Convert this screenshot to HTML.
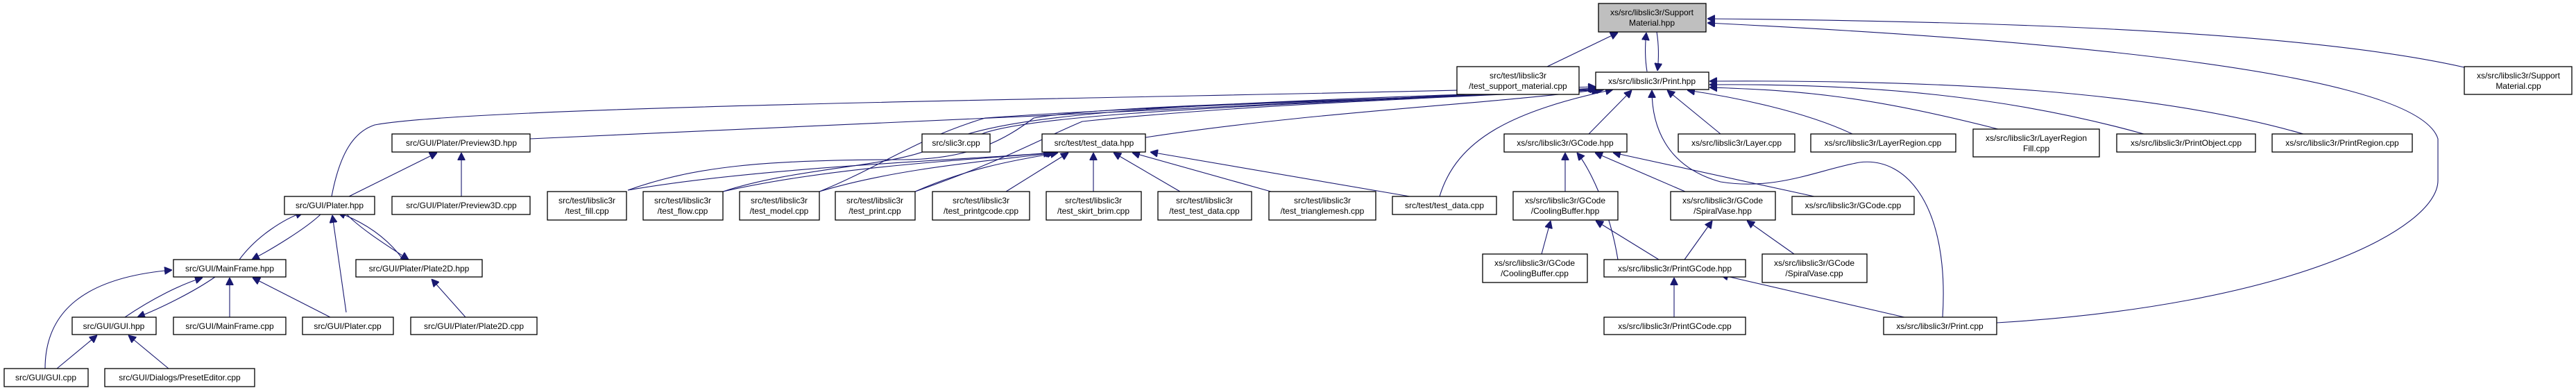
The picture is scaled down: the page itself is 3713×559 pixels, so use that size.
<!DOCTYPE html>
<html><head><meta charset="utf-8"><style>
html,body{margin:0;padding:0;background:#fff;}
svg{display:block;}
text{font-family:"Liberation Sans",Arial,sans-serif;font-size:12px;fill:#000;text-anchor:middle;}
.n{fill:#fff;stroke:#000;stroke-width:1.3;}
.e{fill:none;stroke:#191970;stroke-width:1.1;}
</style></head><body>
<svg width="3713" height="559" viewBox="0 0 3713 559" xmlns="http://www.w3.org/2000/svg">
<defs>
<marker id="a" viewBox="0 0 10 10" refX="10" refY="5" markerWidth="11" markerHeight="11" markerUnits="userSpaceOnUse" orient="auto">
<path d="M0,0 L10,5 L0,10 z" fill="#191970" stroke="#191970"/>
</marker>
</defs>
<g class="e" marker-end="url(#a)">
<!-- to SupportMaterial.hpp -->
<path d="M2230,96 L2332,47"/>
<path d="M2374,103 C2371,85 2371,65 2373,47"/>
<path d="M2388,46 C2391,65 2391,85 2389,102"/>
<path d="M3552,97 C3300,40 2800,30 2461,27"/>
<path d="M2878,465 C3300,440 3514,330 3514,260 L3514,200 C3480,90 2800,50 2461,33"/>
<!-- to Print.hpp -->
<path d="M478,283 C490,220 510,190 540,180 C700,150 1800,140 2300,125"/>
<path d="M764,200 C1200,180 1900,150 2300,127"/>
<path d="M1415,193 C1500,160 1900,150 2302,128"/>
<path d="M1651,198 C1900,160 2150,150 2305,129"/>
<path d="M905,274 C1000,240 1100,230 1300,230 C1400,230 1450,200 1490,170 C1600,150 2000,145 2306,129"/>
<path d="M1042,276 C1150,240 1300,240 1350,210 C1450,160 1700,150 2308,129"/>
<path d="M1181,276 C1270,240 1320,200 1420,170 C1700,150 2100,140 2310,129"/>
<path d="M1319,276 C1450,230 1500,200 1560,175 C1800,150 2100,140 2312,129"/>
<path d="M2075,283 C2100,200 2180,160 2325,129"/>
<path d="M2290,193 L2352,130"/>
<path d="M2800,457 C2810,300 2750,225 2680,234 C2620,245 2560,275 2480,262 C2400,240 2381,180 2381,130"/>
<path d="M2480,193 L2403,130"/>
<path d="M2670,193 C2600,160 2500,140 2432,130"/>
<path d="M2880,186 C2700,140 2600,130 2464,126"/>
<path d="M3090,193 C2900,140 2700,120 2464,122"/>
<path d="M3320,193 C3100,130 2800,115 2464,117"/>
<!-- to test_data.hpp -->
<path d="M905,274 C1100,240 1400,230 1515,220"/>
<path d="M1042,276 C1200,240 1400,230 1518,220"/>
<path d="M1181,276 C1300,240 1450,230 1520,220"/>
<path d="M1319,276 C1400,240 1470,230 1525,220"/>
<path d="M1450,276 L1540,220"/>
<path d="M1576,276 L1576,220"/>
<path d="M1701,276 L1605,220"/>
<path d="M1832,276 L1632,220"/>
<path d="M2032,283 L1658,219"/>
<!-- GUI side -->
<path d="M503,283 L630,220"/>
<path d="M665,283 L665,220"/>
<path d="M345,374 C370,340 410,315 437,306"/>
<path d="M462,309 C440,330 390,360 363,374"/>
<path d="M499,450 L479,310"/>
<path d="M581,374 C560,345 530,322 487,306"/>
<path d="M500,309 C520,330 560,355 589,374"/>
<path d="M671,457 L622,402"/>
<path d="M180,457 C220,430 260,410 292,400"/>
<path d="M310,399 C280,420 230,445 198,457"/>
<path d="M331,457 L331,400"/>
<path d="M476,457 L364,400"/>
<path d="M65,531 C65,450 120,400 248,389"/>
<path d="M82,531 L140,483"/>
<path d="M243,531 L185,483"/>
<!-- GCode side -->
<path d="M2256,276 L2256,220"/>
<path d="M2332,374 C2320,300 2290,240 2273,220"/>
<path d="M2429,276 L2299,220"/>
<path d="M2615,283 L2325,220"/>
<path d="M2222,366 L2235,318"/>
<path d="M2391,374 L2300,318"/>
<path d="M2428,374 L2468,318"/>
<path d="M2586,366 L2518,318"/>
<path d="M2413,457 L2413,400"/>
<path d="M2745,457 L2480,396"/>
</g>
<!-- nodes -->
<rect x="2304" y="5" width="155" height="41" fill="#bfbfbf" stroke="#000" stroke-width="1.3"/>
<text x="2381" y="22">xs/src/libslic3r/Support</text><text x="2381" y="37">Material.hpp</text>
<rect class="n" x="2100" y="96" width="176" height="40"/><text x="2188" y="113">src/test/libslic3r</text><text x="2188" y="128">/test_support_material.cpp</text>
<rect class="n" x="2300" y="104" width="163" height="25"/><text x="2381" y="121">xs/src/libslic3r/Print.hpp</text>
<rect class="n" x="3552" y="96" width="155" height="40"/><text x="3630" y="113">xs/src/libslic3r/Support</text><text x="3630" y="128">Material.cpp</text>
<rect class="n" x="565" y="193" width="199" height="26"/><text x="665" y="210">src/GUI/Plater/Preview3D.hpp</text>
<rect class="n" x="1329" y="193" width="98" height="26"/><text x="1378" y="210">src/slic3r.cpp</text>
<rect class="n" x="1502" y="193" width="149" height="26"/><text x="1577" y="210">src/test/test_data.hpp</text>
<rect class="n" x="2168" y="193" width="177" height="26"/><text x="2256" y="210">xs/src/libslic3r/GCode.hpp</text>
<rect class="n" x="2419" y="193" width="168" height="26"/><text x="2503" y="210">xs/src/libslic3r/Layer.cpp</text>
<rect class="n" x="2610" y="193" width="209" height="26"/><text x="2714" y="210">xs/src/libslic3r/LayerRegion.cpp</text>
<rect class="n" x="2844" y="186" width="182" height="40"/><text x="2935" y="203">xs/src/libslic3r/LayerRegion</text><text x="2935" y="218">Fill.cpp</text>
<rect class="n" x="3051" y="193" width="200" height="26"/><text x="3151" y="210">xs/src/libslic3r/PrintObject.cpp</text>
<rect class="n" x="3275" y="193" width="202" height="26"/><text x="3376" y="210">xs/src/libslic3r/PrintRegion.cpp</text>
<rect class="n" x="410" y="283" width="130" height="26"/><text x="475" y="300">src/GUI/Plater.hpp</text>
<rect class="n" x="565" y="283" width="199" height="26"/><text x="665" y="300">src/GUI/Plater/Preview3D.cpp</text>
<rect class="n" x="789" y="276" width="114" height="41"/><text x="846" y="293">src/test/libslic3r</text><text x="846" y="308">/test_fill.cpp</text>
<rect class="n" x="927" y="276" width="115" height="41"/><text x="984" y="293">src/test/libslic3r</text><text x="984" y="308">/test_flow.cpp</text>
<rect class="n" x="1066" y="276" width="115" height="41"/><text x="1123" y="293">src/test/libslic3r</text><text x="1123" y="308">/test_model.cpp</text>
<rect class="n" x="1204" y="276" width="115" height="41"/><text x="1261" y="293">src/test/libslic3r</text><text x="1261" y="308">/test_print.cpp</text>
<rect class="n" x="1344" y="276" width="140" height="41"/><text x="1414" y="293">src/test/libslic3r</text><text x="1414" y="308">/test_printgcode.cpp</text>
<rect class="n" x="1508" y="276" width="137" height="41"/><text x="1576" y="293">src/test/libslic3r</text><text x="1576" y="308">/test_skirt_brim.cpp</text>
<rect class="n" x="1669" y="276" width="135" height="41"/><text x="1736" y="293">src/test/libslic3r</text><text x="1736" y="308">/test_test_data.cpp</text>
<rect class="n" x="1829" y="276" width="154" height="41"/><text x="1906" y="293">src/test/libslic3r</text><text x="1906" y="308">/test_trianglemesh.cpp</text>
<rect class="n" x="2007" y="283" width="150" height="26"/><text x="2082" y="300">src/test/test_data.cpp</text>
<rect class="n" x="2181" y="276" width="151" height="41"/><text x="2256" y="293">xs/src/libslic3r/GCode</text><text x="2256" y="308">/CoolingBuffer.hpp</text>
<rect class="n" x="2408" y="276" width="151" height="41"/><text x="2483" y="293">xs/src/libslic3r/GCode</text><text x="2483" y="308">/SpiralVase.hpp</text>
<rect class="n" x="2583" y="283" width="176" height="26"/><text x="2671" y="300">xs/src/libslic3r/GCode.cpp</text>
<rect class="n" x="250" y="374" width="162" height="25"/><text x="331" y="391">src/GUI/MainFrame.hpp</text>
<rect class="n" x="513" y="374" width="182" height="25"/><text x="604" y="391">src/GUI/Plater/Plate2D.hpp</text>
<rect class="n" x="2137" y="366" width="151" height="41"/><text x="2212" y="383">xs/src/libslic3r/GCode</text><text x="2212" y="398">/CoolingBuffer.cpp</text>
<rect class="n" x="2312" y="374" width="204" height="25"/><text x="2414" y="391">xs/src/libslic3r/PrintGCode.hpp</text>
<rect class="n" x="2540" y="366" width="151" height="41"/><text x="2615" y="383">xs/src/libslic3r/GCode</text><text x="2615" y="398">/SpiralVase.cpp</text>
<rect class="n" x="104" y="457" width="121" height="25"/><text x="164" y="474">src/GUI/GUI.hpp</text>
<rect class="n" x="250" y="457" width="162" height="25"/><text x="331" y="474">src/GUI/MainFrame.cpp</text>
<rect class="n" x="436" y="457" width="131" height="25"/><text x="501" y="474">src/GUI/Plater.cpp</text>
<rect class="n" x="592" y="457" width="182" height="25"/><text x="683" y="474">src/GUI/Plater/Plate2D.cpp</text>
<rect class="n" x="2312" y="457" width="204" height="25"/><text x="2414" y="474">xs/src/libslic3r/PrintGCode.cpp</text>
<rect class="n" x="2715" y="457" width="163" height="25"/><text x="2796" y="474">xs/src/libslic3r/Print.cpp</text>
<rect class="n" x="6" y="531" width="121" height="26"/><text x="66" y="548">src/GUI/GUI.cpp</text>
<rect class="n" x="151" y="531" width="216" height="26"/><text x="259" y="548">src/GUI/Dialogs/PresetEditor.cpp</text>
</svg>
</body></html>
